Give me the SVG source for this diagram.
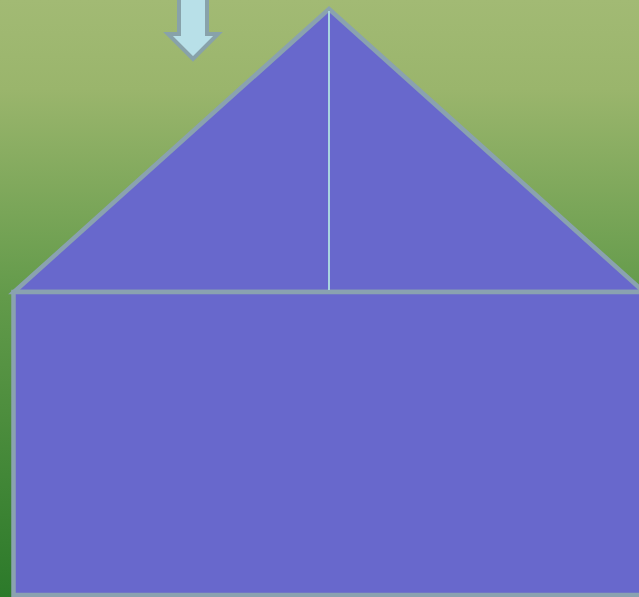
<svg xmlns="http://www.w3.org/2000/svg" width="639" height="597" viewBox="0 0 639 597">
<defs>
<linearGradient id="bg" x1="0" y1="0" x2="0" y2="1">
<stop offset="0" stop-color="#a2ba74"/>
<stop offset="0.15" stop-color="#9ab56c"/>
<stop offset="0.5" stop-color="#629a4a"/>
<stop offset="1" stop-color="#2c7a2a"/>
</linearGradient>
<style>
.shape{fill:#6868cc;stroke:#8aa2b0;stroke-width:4.5;stroke-linejoin:miter}
.arrow{fill:#b8e0e8;stroke:#88a2aa;stroke-width:4;stroke-linejoin:miter}
</style>
</defs>
<rect x="0" y="0" width="639" height="597" fill="url(#bg)"/>
<g id="roof">
<polygon class="shape" points="14,292 329,9 644,292"/>
</g>
<g id="body">
<rect class="shape" x="13.5" y="292" width="640" height="303"/>
</g>
<g id="connectors">
<line x1="329" y1="11" x2="329" y2="290" stroke="#a8d4e0" stroke-width="2"/>
<polygon class="arrow" points="179,-6 207,-6 207,34 218,34 193,59 168,34 179,34"/>
</g>
</svg>
